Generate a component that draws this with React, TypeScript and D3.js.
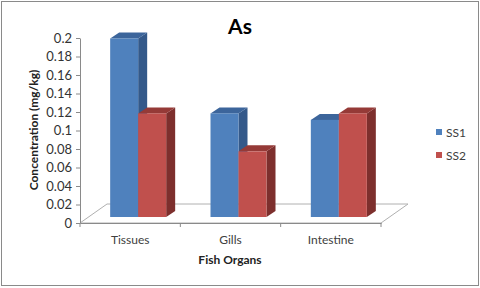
import React from "react";
import * as d3 from "d3";

const organs = ["Tissues", "Gills", "Intestine"];
const series = ["SS1", "SS2"];
const ss1 = [0.193, 0.112, 0.105];
const ss2 = [0.112, 0.071, 0.112];
const yTicks = [0, 0.02, 0.04, 0.06, 0.08, 0.1, 0.12, 0.14, 0.16, 0.18, 0.2];

const colors: Record<string, { front: string; top: string; side: string }> = {
  SS1: { front: "#4f81bd", top: "#3c659b", side: "#34598a" },
  SS2: { front: "#c0504d", top: "#953a37", side: "#7d2f2d" },
};

const font = "Lato, 'Open Sans', sans-serif";

const App = () => {
  const ref = React.useRef<SVGSVGElement>(null);

  React.useEffect(() => {
    const svg = d3.select(ref.current);
    svg.selectAll("*").remove();

    const width = 480,
      height = 288;
    const floorDepth = { dx: 27, dy: -19 };
    const barShift = { dx: 8, dy: -6 }; // bar front face sits a bit back from the floor edge
    const barDepth = { dx: 9, dy: -6 };

    const y = d3.scaleLinear().domain([0, 0.2]).range([223, 38]);
    const x = d3.scaleBand().domain(organs).range([80, 381]);
    const xs = d3
      .scaleBand()
      .domain(series)
      .range([x.bandwidth() / 2 - 28, x.bandwidth() / 2 + 28]);

    // frame
    svg.append("rect")
      .attr("x", 1.5)
      .attr("y", 1.5)
      .attr("width", width - 3)
      .attr("height", height - 4)
      .attr("fill", "#fff")
      .attr("stroke", "#8a8a8a");

    // floor
    const [x0, x1] = x.range();
    const y0 = y(0);
    svg.append("path")
      .attr("d", `M${x0},${y0}L${x1},${y0}L${x1 + floorDepth.dx},${y0 + floorDepth.dy}L${x0 + floorDepth.dx},${y0 + floorDepth.dy}Z`)
      .attr("fill", "none")
      .attr("stroke", "#b0b0b0");

    // y axis
    const yAxis = svg.append("g")
      .attr("transform", `translate(${x0},0)`)
      .call(
        d3.axisLeft(y)
          .tickValues(yTicks)
          .tickSize(4)
          .tickSizeOuter(0)
          .tickPadding(4)
          .tickFormat((d) => String(+(+d).toFixed(2)))
      );
    yAxis.selectAll("path, line").attr("stroke", "#8a8a8a");
    yAxis.selectAll("text")
      .attr("fill", "#333")
      .style("font-family", font)
      .style("font-size", "13px");

    // x axis: labels at band centres, ticks at band edges
    const xAxis = svg.append("g")
      .attr("transform", `translate(0,${y0})`)
      .call(d3.axisBottom(x).tickSize(0).tickSizeOuter(0).tickPadding(12));
    xAxis.select("path").attr("stroke", "#8a8a8a");
    xAxis.selectAll("text")
      .attr("fill", "#404040")
      .style("font-family", font)
      .style("font-size", "12px");
    xAxis.selectAll(".edge")
      .data([...organs.map((o) => x(o) as number), x1])
      .join("line")
      .attr("class", "edge")
      .attr("x1", (d) => d)
      .attr("x2", (d) => d)
      .attr("y1", 0)
      .attr("y2", 4)
      .attr("stroke", "#8a8a8a");

    // bars
    const bars = organs.flatMap((o, i) => [
      { organ: o, s: "SS1", v: ss1[i] },
      { organ: o, s: "SS2", v: ss2[i] },
    ]);
    const g = svg.append("g");
    bars.forEach((d) => {
      const c = colors[d.s];
      const xl = (x(d.organ) as number) + (xs(d.s) as number) + barShift.dx;
      const w = xs.bandwidth();
      const yb = y(0) + barShift.dy;
      const yt = y(d.v) + barShift.dy;
      const bx = barDepth.dx,
        by = barDepth.dy;
      g.append("path")
        .attr("d", `M${xl + w},${yt}L${xl + w + bx},${yt + by}L${xl + w + bx},${yb + by}L${xl + w},${yb}Z`)
        .attr("fill", c.side);
      g.append("path")
        .attr("d", `M${xl},${yt}L${xl + w},${yt}L${xl + w + bx},${yt + by}L${xl + bx},${yt + by}Z`)
        .attr("fill", c.top);
      g.append("rect")
        .attr("x", xl)
        .attr("y", yt)
        .attr("width", w)
        .attr("height", yb - yt)
        .attr("fill", c.front);
    });

    // titles
    svg.append("text")
      .attr("x", 240)
      .attr("y", 34)
      .attr("text-anchor", "middle")
      .style("font-family", font)
      .style("font-size", "21px")
      .style("font-weight", "bold")
      .text("As");

    svg.append("text")
      .attr("x", 230)
      .attr("y", 264)
      .attr("text-anchor", "middle")
      .style("font-family", font)
      .style("font-size", "12px")
      .style("font-weight", "bold")
      .attr("fill", "#222")
      .text("Fish Organs");

    svg.append("text")
      .attr("transform", "translate(33,130) rotate(-90)")
      .attr("text-anchor", "middle")
      .attr("dominant-baseline", "central")
      .style("font-family", font)
      .style("font-size", "12px")
      .style("font-weight", "bold")
      .attr("fill", "#222")
      .text("Concentration (mg/kg)");

    // legend
    const legend = svg.append("g")
      .selectAll("g")
      .data(series)
      .join("g")
      .attr("transform", (_, i) => `translate(436,${132 + i * 23})`);
    legend.append("rect")
      .attr("x", 0)
      .attr("y", -3)
      .attr("width", 6)
      .attr("height", 6)
      .attr("fill", (d) => colors[d].front);
    legend.append("text")
      .attr("x", 10)
      .attr("y", 0)
      .attr("dominant-baseline", "central")
      .attr("fill", "#404040")
      .style("font-family", font)
      .style("font-size", "12px")
      .text((d) => d);
  }, []);

  return (
    <svg
      ref={ref}
      width={480}
      height={288}
      style={{ position: "absolute", left: 0, top: 0, display: "block" }}
    ></svg>
  );
};

export default App;
